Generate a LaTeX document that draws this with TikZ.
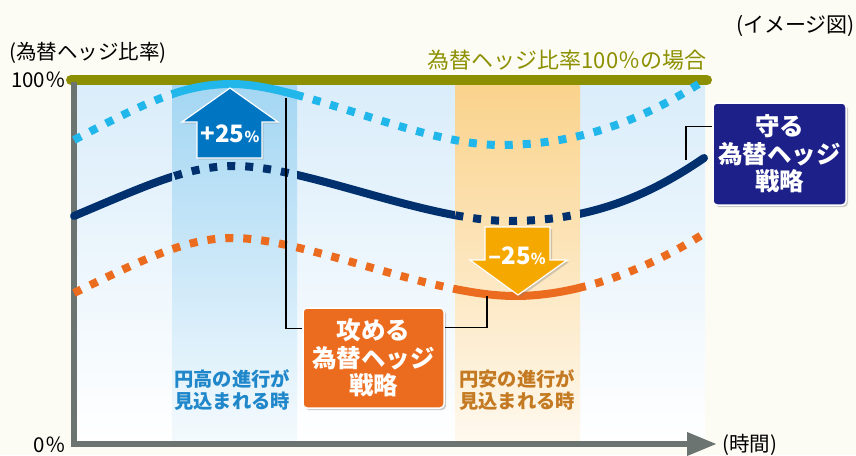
\documentclass[tikz,border=0pt]{standalone}
\usepackage{fontspec}
\setmainfont{Noto Sans CJK JP}
\usetikzlibrary{arrows.meta,shadows,calc}

\definecolor{bgcream}{HTML}{FDFCF4}
\definecolor{plotblue}{HTML}{DAEDFA}
\definecolor{bandblue}{HTML}{A3D6F3}
\definecolor{bandorange}{HTML}{FAD38C}
\definecolor{olivegreen}{HTML}{8C9000}
\definecolor{skyblue}{HTML}{22B7EB}
\definecolor{navyline}{HTML}{00306E}
\definecolor{orangeline}{HTML}{EC6C1F}
\definecolor{upblue}{HTML}{0075C1}
\definecolor{downyellow}{HTML}{F5A800}
\definecolor{navybox}{HTML}{1D2088}
\definecolor{axisgray}{HTML}{6B7470}
\definecolor{textblue}{HTML}{1F87CA}
\definecolor{textbrown}{HTML}{C47A22}

\tikzset{
  wave/.style={line width=8pt},
  dashwave/.style={wave, dash pattern=on 8pt off 10pt},
  labeltext/.style={inner sep=0pt, font=\fontsize{20.5}{20}\selectfont},
  bandtext/.style={inner sep=0pt, align=left, font=\bfseries\fontsize{19.3}{22.5}\selectfont},
  pcttext/.style={inner sep=0pt, text=white, font=\bfseries\fontsize{24}{24}\selectfont},
  strategy/.style={draw=white, line width=1.5pt, rounded corners=4pt, text=white,
    align=center, inner sep=0pt, font=\bfseries\fontsize{24.5}{27.5}\selectfont,
    drop shadow={opacity=0.4, shadow xshift=2pt, shadow yshift=-2pt}},
  link/.style={black, line width=1.4pt},
}

\newcommand{\skypath}{(74,140) .. controls (150,100) and (185,84) .. (232,84) .. controls (300,84) and (420,145) .. (500,145) .. controls (590,145) and (655,112) .. (705,80)}
\newcommand{\navypath}{(74,216) .. controls (150,184) and (188,166) .. (235,166) .. controls (305,166) and (425,221) .. (510,221) .. controls (600,221) and (660,188) .. (704,158)}
\newcommand{\orangepath}{(74,293) .. controls (150,256) and (188,238) .. (233,238) .. controls (305,238) and (430,296) .. (515,296) .. controls (580,296) and (650,268) .. (705,233)}

\begin{document}
\begin{tikzpicture}[x=1pt,y=-1pt]
    \useasboundingbox[fill=bgcream] (0,0) rectangle (856,455);

    % Plot area and the two bands
    \shade[top color=plotblue, bottom color=white] (77,85) rectangle (705,441);
    \shade[top color=bandblue, bottom color=bandblue!12] (172,85) rectangle (297,441);
    \shade[top color=bandorange, bottom color=bandorange!15] (455,85) rectangle (580,441);

    % Band texts
    \node[bandtext, text=textblue] (yendaka) at (232,390) {円高の進行が\\見込まれる時};
    \node[bandtext, text=textbrown] (yenyasu) at (517,390) {円安の進行が\\見込まれる時};

    % 100% line
    \draw[olivegreen, line width=10pt, line cap=round] (71,80) -- (707,80);
    \node[labeltext, text=olivegreen, font=\fontsize{22}{22}\selectfont] (fulllabel) at (567,60) {為替ヘッジ比率100％の場合};

    % Axes
    \draw[axisgray, line width=6.5pt, -{Triangle[length=30pt,width=22pt]}] (74,82) -- (74,444) -- (717,444);

    % Light blue: solid only in the blue band
    \begin{scope}
        \clip (172,0) rectangle (297,455);
        \draw[skyblue, wave] \skypath;
    \end{scope}
    \begin{scope}
        \clip (0,0) rectangle (172,455) (297,0) rectangle (856,455);
        \draw[skyblue, dashwave] \skypath;
    \end{scope}

    % Navy: dashed in both bands
    \begin{scope}
        \clip (172,0) rectangle (297,455) (455,0) rectangle (580,455);
        \draw[navyline, dashwave] \navypath;
    \end{scope}
    \begin{scope}
        \clip (0,0) rectangle (172,455) (297,0) rectangle (455,455) (580,0) rectangle (856,455);
        \draw[navyline, wave, line cap=round] \navypath;
    \end{scope}

    % Orange: solid only in the orange band
    \begin{scope}
        \clip (455,0) rectangle (580,455);
        \draw[orangeline, wave] \orangepath;
    \end{scope}
    \begin{scope}
        \clip (0,0) rectangle (455,455) (580,0) rectangle (856,455);
        \draw[orangeline, dashwave] \orangepath;
    \end{scope}

    % Up arrow
    \draw[white, line width=1.2pt, fill=upblue, drop shadow={opacity=0.3, shadow xshift=1.5pt, shadow yshift=-1.5pt}]
        (197,158) -- (197,122) -- (182,122) -- (230,88) -- (278,122) -- (262,122) -- (262,158) -- cycle;
    \node[pcttext] (uplabel) at (230,134) {+25{\fontsize{15}{15}\selectfont\%}};

    % Down arrow
    \draw[white, line width=1.2pt, fill=downyellow, drop shadow={opacity=0.35, shadow xshift=2pt, shadow yshift=-2pt}]
        (485,227) -- (550,227) -- (550,260) -- (567,260) -- (518,295) -- (470,260) -- (485,260) -- cycle;
    \node[pcttext] (downlabel) at (517,256) {–25{\fontsize{15}{15}\selectfont\%}};

    % Strategy boxes
    \node[strategy, fill=navybox, minimum width=133pt, minimum height=102pt] (defend) at (779.5,154) {守る\\為替ヘッジ\\戦略};
    \node[strategy, fill=orangeline, minimum width=141pt, minimum height=100pt] (attack) at (373.5,358) {攻める\\為替ヘッジ\\戦略};

    % Connectors
    \coordinate (defendtip) at (686,160);
    \coordinate (attacktipL) at (286,98);
    \coordinate (attacktipR) at (487,296);
    \draw[link] ([yshift=-24pt]defend.north west) -| (defendtip);
    \draw[link] ([yshift=-21pt]attack.north west) -| (attacktipL);
    \draw[link] ([yshift=-20pt]attack.north east) -| (attacktipR);

    % Axis labels
    \node[labeltext, anchor=west] (ratiolabel) at (9,53) {(為替ヘッジ比率)};
    \node[labeltext, anchor=east] (toplabel) at (66,80) {100％};
    \node[labeltext, anchor=east] (zerolabel) at (66,445) {0％};
    \node[labeltext, anchor=west] (timelabel) at (722,445) {(時間)};
    \node[labeltext, anchor=east, font=\fontsize{21}{21}\selectfont] (imagelabel) at (855,26) {(イメージ図)};
\end{tikzpicture}
\end{document}
